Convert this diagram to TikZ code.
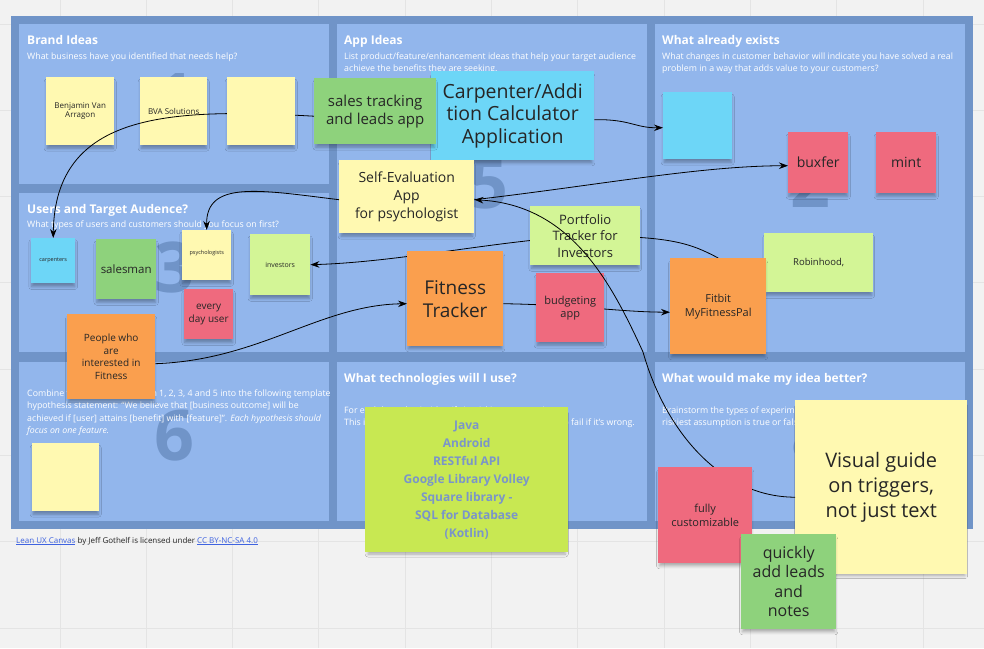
\documentclass[tikz,border=0pt]{standalone}
\usepackage{fontspec}
\setmainfont{Open Sans}
\usetikzlibrary{arrows.meta,calc,shadows,shadows.blur}
\definecolor{bgc}{HTML}{F2F2F2}
\definecolor{gridc}{HTML}{E4E4E4}
\definecolor{board}{HTML}{7094C8}
\definecolor{panel}{HTML}{92B6EC}
\definecolor{numc}{HTML}{7094C8}
\definecolor{sy}{HTML}{FFF9B1}
\definecolor{sg}{HTML}{8ED27C}
\definecolor{slg}{HTML}{D3F596}
\definecolor{sb}{HTML}{6DD6F7}
\definecolor{sr}{HTML}{EF6A7E}
\definecolor{so}{HTML}{FA9F4E}
\definecolor{sl}{HTML}{C8E852}
\definecolor{techtxt}{HTML}{7A95C9}
\definecolor{stxt}{HTML}{262626}
\definecolor{linkc}{HTML}{3F63E0}
\newcommand\myfs[2]{\fontsize{#1}{#2}\selectfont}
\newcommand\stkfill[2]{\path[fill=#2, stkshadow] (#1.north west) rectangle (#1.south east);}
\begin{document}
\begin{tikzpicture}[x=1pt,y=-1pt,
  ph/.style={draw=none, fill=none, inner sep=0pt, anchor=north west},
  stkshadow/.style={blur shadow={shadow xshift=0pt, shadow yshift=-4pt, shadow blur radius=3pt, shadow opacity=30, shadow scale=0.97}},
  txt/.style={inner sep=0pt, align=center, text=stxt},
  ttl/.style={font=\myfs{12}{13}\bfseries, text=white, anchor=base west, inner sep=0pt},
  sub/.style={font=\myfs{8.8}{12}, text=white, anchor=base west, inner sep=0pt},
  num/.style={font=\myfs{70}{70}\bfseries, text=numc, anchor=base, inner sep=0pt},
  conn/.style={draw=black, line width=0.8pt, -{Stealth[length=9pt,width=6.5pt]}}
]
\useasboundingbox (0,0) rectangle (984,648);
\fill[bgc] (0,0) rectangle (984,648);
\foreach \k in {0,...,10} \draw[gridc, line width=1pt] ({60+86.3*\k},0) -- ({60+86.3*\k},648);
\foreach \k in {0,...,7} \draw[gridc, line width=1pt] (0,{24+86.3*\k}) -- (984,{24+86.3*\k});
% board
\fill[board] (11,16) rectangle (973,529);
\fill[panel] (19,24) rectangle (329,184);
\fill[panel] (337,24) rectangle (647,352);
\fill[panel] (655,24) rectangle (965,352);
\fill[panel] (19,193) rectangle (329,352);
\fill[panel] (19,362) rectangle (329,521);
\fill[panel] (337,362) rectangle (647,521);
\fill[panel] (655,362) rectangle (965,521);
% big numbers
\node[num] (n1) at (175,123) {1};
\node[num] (n5) at (488,208) {5};
\node[num] (n2) at (810,207) {2};
\node[num] (n3) at (174,292) {3};
\node[num] (n6) at (174,460) {6};
\node[num] (n8) at (811,460) {8};
% titles
\node[ttl] (t1) at (27,44) {Brand Ideas};
\node[sub] (s1) at (27,59) {What business have you identified that needs help?};
\node[ttl] (t5) at (344,44) {App Ideas};
\node[sub] (s5a) at (344,59) {List product/feature/enhancement ideas that help your target audience};
\node[sub] (s5b) at (344,71) {achieve the benefits they are seeking.};
\node[ttl] (t2) at (662,44) {What already exists};
\node[sub] (s2a) at (662,59) {What changes in customer behavior will indicate you have solved a real};
\node[sub] (s2b) at (662,71) {problem in a way that adds value to your customers?};
\node[ttl] (t3) at (27,213) {Users and Target Audence?};
\node[sub] (s3) at (27,227) {What types of users and customers should you focus on first?};
\node[sub] (s6a) at (27,396) {Combine the assumptions from 1, 2, 3, 4 and 5 into the following template};
\node[sub] (s6b) at (27,408.5) {hypothesis statement: “We believe that [business outcome] will be};
\node[sub] (s6c) at (27,421) {achieved if [user] attains [benefit] with [feature]”. \textit{Each hypothesis should}};
\node[sub] (s6d) at (27,433.5) {\textit{focus on one feature.}};
\node[ttl] (t7) at (344,382) {What technologies will I use?};
\node[sub] (s7a) at (344,413) {For each hypothesis, identify its riskiest assumption.};
\node[sub] (s7b) at (344,425.5) {This is the assumption that will cause the entire idea to fail if it’s wrong.};
\node[ttl] (t8) at (662,382) {What would make my idea better?};
\node[sub] (s8a) at (662,413) {Brainstorm the types of experiments you can run to learn whether your};
\node[sub] (s8b) at (662,425.5) {riskiest assumption is true or false.};
% footer
\node[anchor=base west, inner sep=0pt, font=\myfs{8}{10}, text=stxt] (foot) at (16,543)
  {{\color{linkc}\underline{Lean UX Canvas}} by Jeff Gothelf is licensed under {\color{linkc}\underline{CC BY-NC-SA 4.0}}};
% sticky frames (named, drawn below)
\node[ph, minimum width=68pt, minimum height=68pt] (benj) at (46,77) {};
\node[ph, minimum width=67pt, minimum height=68pt] (bva) at (140,77) {};
\node[ph, minimum width=68pt, minimum height=68pt] (empty1) at (227,77) {};
\node[ph, minimum width=163pt, minimum height=89pt] (carpapp) at (431,71) {};
\node[ph, minimum width=122pt, minimum height=66pt] (sales) at (314,78) {};
\node[ph, minimum width=135pt, minimum height=73pt] (self) at (339,160) {};
\node[ph, minimum width=69pt, minimum height=67pt] (blue1) at (663,92) {};
\node[ph, minimum width=60pt, minimum height=61pt] (buxfer) at (788,132) {};
\node[ph, minimum width=60pt, minimum height=61pt] (mint) at (876,132) {};
\node[ph, minimum width=44pt, minimum height=45pt] (carpenters) at (31,238) {};
\node[ph, minimum width=60pt, minimum height=60pt] (salesman) at (96,239) {};
\node[ph, minimum width=49pt, minimum height=50pt] (psych) at (182,230) {};
\node[ph, minimum width=60pt, minimum height=61pt] (investors) at (250,234) {};
\node[ph, minimum width=49pt, minimum height=50pt] (everyday) at (184,289) {};
\node[ph, minimum width=88pt, minimum height=85pt] (people) at (67,314) {};
\node[ph, minimum width=109pt, minimum height=59pt] (robin) at (764,233) {};
\node[ph, minimum width=67pt, minimum height=68pt] (empty6) at (32,443) {};
\node[ph, minimum width=203pt, minimum height=145pt] (tech) at (365,407) {};
\node[ph, minimum width=172pt, minimum height=174pt] (visual) at (795,400) {};
\node[ph, minimum width=110pt, minimum height=59pt] (portfolio) at (530,206) {};
\node[ph, minimum width=96pt, minimum height=95pt] (fitness) at (407,251) {};
\node[ph, minimum width=96pt, minimum height=96pt] (fitbit) at (670,258) {};
\node[ph, minimum width=68pt, minimum height=69pt] (budget) at (536,273) {};
\node[ph, minimum width=94pt, minimum height=96pt] (fully) at (658,467) {};
\node[ph, minimum width=95pt, minimum height=95pt] (quick) at (741,534) {};
% level 1 stickies
\stkfill{benj}{sy}
\node[txt, font=\myfs{8}{9.5}] (benjt) at (benj.center) {Benjamin Van\\Arragon};
\stkfill{bva}{sy}
\node[txt, font=\myfs{8}{9.5}] (bvat) at (bva.center) {BVA Solutions};
\stkfill{carpapp}{sb}
\node[txt, font=\myfs{19.5}{22.5}] (carpappt) at (carpapp.center) {Carpenter/Addi\\tion Calculator\\Application};
\stkfill{sales}{sg}
\node[txt, font=\myfs{15}{18}] (salest) at (sales.center) {sales tracking\\and leads app};
\stkfill{self}{sy}
\node[txt, font=\myfs{14}{18}] (selft) at (self.center) {Self-Evaluation\\App\\for psychologist};
\stkfill{blue1}{sb}
\stkfill{buxfer}{sr}
\node[txt, font=\myfs{14}{17}] (buxfert) at (buxfer.center) {buxfer};
\stkfill{mint}{sr}
\node[txt, font=\myfs{14}{17}] (mintt) at (mint.center) {mint};
\stkfill{carpenters}{sb}
\node[txt, font=\myfs{5.5}{7}] (carpenterst) at (carpenters.center) {carpenters};
\stkfill{salesman}{sg}
\node[txt, font=\myfs{11.5}{14}] (salesmant) at (salesman.center) {salesman};
\stkfill{psych}{sy}
\node[txt, font=\myfs{5.5}{7}] (psycht) at ($(psych.center)+(0,-2)$) {psychologists};
\stkfill{investors}{slg}
\node[txt, font=\myfs{7}{9}] (investorst) at (investors.center) {investors};
\stkfill{everyday}{sr}
\node[txt, font=\myfs{10}{13}] (everydayt) at (everyday.center) {every\\day user};
\stkfill{people}{so}
\node[txt, font=\myfs{10}{12.7}] (peoplet) at (people.center) {People who\\are\\interested in\\Fitness};
\stkfill{robin}{slg}
\node[txt, font=\myfs{9.5}{12}] (robint) at (robin.center) {Robinhood,};
\stkfill{empty6}{sy}
\stkfill{tech}{sl}
\node[txt, font=\myfs{12}{18}\bfseries, text=techtxt] (techt) at (tech.center)
  {Java\\Android\\RESTful API\\Google Library Volley\\Square library -\\SQL for Database\\(Kotlin)};
\stkfill{visual}{sy}
\node[txt, font=\myfs{20}{25}] (visualt) at (visual.center) {Visual guide\\on triggers,\\not just text};
% connectors under the second level
\draw[conn] ($(sales.west)+(0,5)$) .. controls (170,108) and (55,112) .. (carpenters.north);
\draw[conn] ($(self.west)+(0,3)$) .. controls (260,190) and (206,180) .. (psych.north);
\draw[conn] (fitbit.north) .. controls (690,243) and (670,236) .. (585,236) .. controls (500,240) and (400,262) .. (investors.east);
\draw[conn] ($(self.east)+(0,3)$) .. controls (600,185) and (700,166) .. ($(buxfer.west)+(0,3)$);
\draw[conn] ($(carpapp.east)+(0,4)$) .. controls (630,119) and (635,128) .. ($(blue1.west)+(0,2)$);
\draw[conn] ($(people.east)+(0,7)$) .. controls (260,360) and (320,305) .. ($(fitness.west)+(0,5)$);
\draw[conn] ($(fitness.east)+(0,5)$) .. controls (580,305) and (620,312) .. ($(fitbit.west)+(0,6)$);
% level 2 stickies
\stkfill{empty1}{sy}
\stkfill{portfolio}{slg}
\node[txt, font=\myfs{13}{16.5}] (portfoliot) at (portfolio.center) {Portfolio\\Tracker for\\Investors};
\stkfill{fitness}{so}
\node[txt, font=\myfs{19}{23}] (fitnesst) at (fitness.center) {Fitness\\Tracker};
\stkfill{fitbit}{so}
\node[txt, font=\myfs{11}{14}] (fitbitt) at (fitbit.center) {Fitbit\\MyFitnessPal};
\stkfill{budget}{sr}
\node[txt, font=\myfs{11}{13}] (budgett) at (budget.center) {budgeting\\app};
% connector over the second level
\draw[conn] ($(visual.west)+(0,10)$) .. controls (720,497) and (665,430) .. (643,352) .. controls (610,280) and (570,205) .. ($(self.east)+(0,3)$);
% level 3 stickies
\stkfill{fully}{sr}
\node[txt, font=\myfs{11}{14}] (fullyt) at (fully.center) {fully\\customizable};
\stkfill{quick}{sg}
\node[txt, font=\myfs{16}{19.5}] (quickt) at (quick.center) {quickly\\add leads\\and\\notes};
\end{tikzpicture}
\end{document}
